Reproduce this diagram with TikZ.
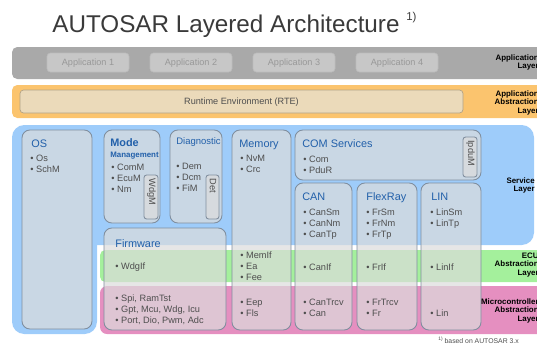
\documentclass[tikz,border=0pt]{standalone}
\usepackage{fontspec}
\setmainfont{Liberation Sans}
\usepackage{xcolor}
\usetikzlibrary{positioning}

\definecolor{headgray}{RGB}{58,58,58}
\definecolor{applgray}{RGB}{169,169,169}
\definecolor{appfill}{RGB}{199,199,199}
\definecolor{appline}{RGB}{188,188,188}
\definecolor{apptext}{RGB}{152,152,152}
\definecolor{rteorange}{RGB}{251,196,110}
\definecolor{rtefill}{RGB}{235,218,186}
\definecolor{rteline}{RGB}{178,162,134}
\definecolor{servblue}{RGB}{158,204,250}
\definecolor{ecugreen}{RGB}{164,240,156}
\definecolor{mcalpink}{RGB}{229,143,192}
\definecolor{boxfill}{RGB}{220,220,220}
\definecolor{boxline}{RGB}{128,142,158}
\definecolor{titleblue}{RGB}{34,96,170}
\definecolor{itemgray}{RGB}{78,78,78}

\tikzset{
  appbox/.style={draw=appline, fill=appfill, rounded corners=2pt, line width=0.4pt},
  apptxt/.style={text=apptext, font=\fontsize{5.2}{6}\selectfont, inner sep=0pt},
  modbox/.style={draw=boxline, fill=boxfill, fill opacity=0.7, rounded corners=4.5pt, line width=0.5pt},
  subbox/.style={modbox, rounded corners=1.5pt},
  modtitle/.style={text=titleblue, font=\fontsize{6.2}{7}\selectfont, anchor=base west, inner sep=0pt},
  itemtxt/.style={text=itemgray, font=\fontsize{5.25}{6}\selectfont, anchor=base west, inner sep=0pt},
  vtext/.style={itemtxt, rotate=-90, anchor=west},
  layerlbl/.style={text=black, font=\bfseries\fontsize{4.5}{5}\selectfont, anchor=base east, inner sep=0pt}
}

% one line per entry, 11.2px apart
\newcommand{\bulletlist}[4]{%
  \foreach \t [count=\i] in {#4} {\node[itemtxt] (#1\i) at (#2,#3+11.2*\i-11.2) {• \t};}}
\newcommand{\layerlabel}[4]{%
  \foreach \t [count=\i] in {#4} {\node[layerlbl] (#1\i) at (#2,#3+8.8*\i-8.8) {\t};}}

\begin{document}
\begin{tikzpicture}[x=0.02cm, y=-0.02cm]
\useasboundingbox (0,0) rectangle (537,346);
\clip (0,0) rectangle (537,346);

\node[anchor=base west, inner sep=0pt, text=headgray, font=\fontsize{13.8}{16}\selectfont] (title) at (52,32)
  {AUTOSAR Layered Architecture \raisebox{0.9ex}{\fontsize{6.5}{7}\selectfont 1)}};

% layers
\fill[applgray, rounded corners=3pt] (12,47) rectangle (560,79);
\fill[rteorange, rounded corners=3pt] (12,85) rectangle (560,118);
\fill[servblue, rounded corners=7pt] (12,125) rectangle (534,245);
\fill[servblue, rounded corners=7pt] (12,200) rectangle (97,334);
\fill[ecugreen, rounded corners=3pt] (100,250) rectangle (560,282);
\fill[mcalpink, rounded corners=4pt] (100,286) rectangle (560,334);

\foreach \i/\x in {1/47, 2/150, 3/253, 4/356}
{
  \draw[appbox] (\x,53) rectangle +(82,19);
  \node[apptxt] (app\i) at (\x+41,62.8) {Application \i};
}
\draw[appbox, draw=rteline, fill=rtefill] (20,90) rectangle (463,113);
\node[apptxt, text=itemgray] (rte) at (241.5,101.8) {Runtime Environment (RTE)};

% modules
\draw[modbox] (22,130) rectangle (92,329);
\draw[modbox] (104,130) rectangle (160,223);
\draw[modbox] (170,130) rectangle (222,223);
\draw[modbox] (232,130) rectangle (291,330);
\draw[modbox] (295,130) rectangle (481,180);
\draw[modbox] (295,183) rectangle (352,330);
\draw[modbox] (357,183) rectangle (417,330);
\draw[modbox] (421,183) rectangle (481,330);
\draw[modbox] (104,228) rectangle (226,330);
\draw[subbox] (144,175) rectangle (158,219);
\draw[subbox] (206,175) rectangle (219,219);
\draw[subbox] (463,137) rectangle (477,177);

\node[modtitle] (os) at (31,147) {OS};
\node[modtitle, font=\bfseries\fontsize{6.2}{7}\selectfont] (mode) at (110,146) {Mode};
\node[modtitle, font=\bfseries\fontsize{4.5}{5}\selectfont] (mgmt) at (110,157) {Management};
\node[modtitle, font=\fontsize{5.4}{6}\selectfont] (diag) at (176,144.5) {Diagnostic};
\node[modtitle] (mem) at (239,147) {Memory};
\node[modtitle] (com) at (302,147) {COM Services};
\node[modtitle] (can) at (302,200) {CAN};
\node[modtitle] (fr) at (366,200) {FlexRay};
\node[modtitle] (lin) at (431,200) {LIN};
\node[modtitle] (fw) at (115,247) {Firmware};

\bulletlist{osi}{30}{161}{Os, SchM}
\bulletlist{modei}{111}{170}{ComM, EcuM, Nm}
\bulletlist{diagi}{176}{169}{Dem, Dcm, FiM}
\bulletlist{memi}{240}{161}{NvM, Crc}
\bulletlist{comi}{303}{162}{Com, PduR}
\bulletlist{cani}{303}{215}{CanSm, CanNm, CanTp}
\bulletlist{fri}{366}{215}{FrSm, FrNm, FrTp}
\bulletlist{lini}{430}{215}{LinSm, LinTp}
\node[vtext] (wdgm) at (151.5,178.5) {WdgM};
\node[vtext] (det) at (213,178.5) {Det};
\node[vtext] (ipdum) at (470.5,140) {IpduM};

% ECU abstraction row
\bulletlist{fwe}{115}{269.5}{WdgIf}
\bulletlist{meme}{240}{258.5}{MemIf, Ea, Fee}
\bulletlist{cane}{303}{270.5}{CanIf}
\bulletlist{fre}{366}{270.5}{FrIf}
\bulletlist{line}{430}{270.5}{LinIf}

% microcontroller abstraction row
\bulletlist{fwm}{115}{301}{{Spi, RamTst}, {Gpt, Mcu, Wdg, Icu}, {Port, Dio, Pwm, Adc}}
\bulletlist{memm}{240}{305}{Eep, Fls}
\bulletlist{canm}{303}{305}{CanTrcv, Can}
\bulletlist{frm}{366}{305}{FrTrcv, Fr}
\bulletlist{linm}{430}{316.2}{Lin}

\layerlabel{appl}{539}{60}{Application, Layer}
\layerlabel{rtel}{539}{96}{Application, Abstraction, Layer}
\layerlabel{servl}{535}{183}{Service, Layer}
\layerlabel{ecul}{539}{258}{ECU, Abstraction, Layer}
\layerlabel{mcall}{539}{304}{Microcontroller, Abstraction, Layer}

\node[anchor=base west, inner sep=0pt, text=itemgray, font=\fontsize{3.9}{4}\selectfont] (note) at (438,343)
  {\raisebox{0.6ex}{\fontsize{2.8}{3}\selectfont 1)} based on AUTOSAR 3.x};
\end{tikzpicture}
\end{document}
